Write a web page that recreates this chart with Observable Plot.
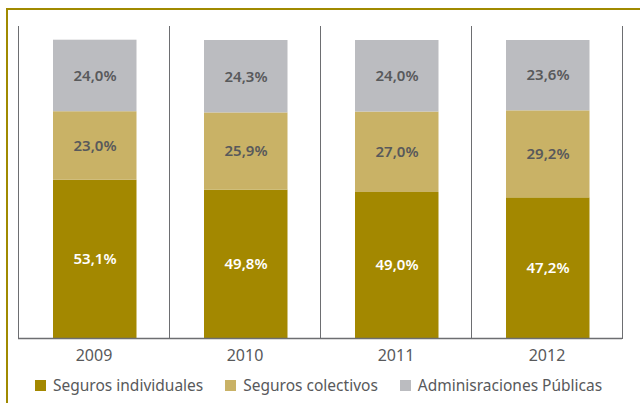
<!DOCTYPE html>
<html><head><meta charset="utf-8">
<script src="https://cdn.jsdelivr.net/npm/d3@7"></script>
<script src="https://cdn.jsdelivr.net/npm/@observablehq/plot@0.6"></script>
<style>
body{margin:0;background:#fff;font-family:"Noto Sans",sans-serif;}
#wrap{position:absolute;left:6px;top:8px;width:632px;height:393px;border-left:2px solid #A08A00;border-top:2px solid #A08A00;}
#chart{position:absolute;left:0;top:0;}
#legend{position:absolute;left:27px;top:364px;display:flex;align-items:center;font-size:15.5px;color:#58595b;white-space:nowrap;}
.item{display:flex;align-items:center;margin-right:22px;}
.sw{width:11px;height:11px;margin-right:7px;}
</style>
</head><body>
<div id="wrap"><div id="chart"></div><div id="legend"></div></div>
<script>
const years = ["2009", "2010", "2011", "2012"];
const seriesNames = ["Seguros individuales", "Seguros colectivos", "Adminisraciones Públicas"];
const individuales = [53.1, 49.8, 49.0, 47.2];
const colectivos = [23.0, 25.9, 27.0, 29.2];
const publicas = [24.0, 24.3, 24.0, 23.6];
const colors = ["#A38800", "#C9B266", "#BBBCC0"];

const seriesValues = [individuales, colectivos, publicas];
const rows = [];
seriesNames.forEach((s, i) => years.forEach((y, j) => rows.push({year: y, series: s, value: seriesValues[i][j]})));
const fmt = v => v.toFixed(1).replace(".", ",") + "%";

const W = 632, H = 360, mT = 16, mB = 32;
const plot = Plot.plot({
  width: W, height: H,
  marginLeft: 10, marginRight: 18, marginTop: mT, marginBottom: mB,
  style: {fontFamily: "Noto Sans, sans-serif", background: "transparent"},
  fx: {domain: years, padding: 0, label: null},
  y: {domain: [0, 100], range: [H - mB, 30], axis: null},
  color: {domain: seriesNames, range: colors},
  marks: [
    Plot.frame({anchor: "left", stroke: "#6d6e71"}),
    Plot.frame({anchor: "right", stroke: "#6d6e71"}),
    Plot.barY(rows, Plot.stackY({fx: "year", y: "value", fill: "series", insetLeft: 35, insetRight: 32.5})),
    Plot.text(rows, Plot.stackY({fx: "year", y: "value", z: "series", text: d => fmt(d.value), dx: 1,
      fill: d => d.series === seriesNames[0] ? "#ffffff" : "#58595b", fontSize: 15, fontWeight: 600})),
    Plot.ruleY([0], {stroke: "#6d6e71", strokeWidth: 1.5}),
    Plot.axisFx({anchor: "bottom", tickSize: 0, tickPadding: 11, fontSize: 16, label: null, color: "#58595b"})
  ]
});
document.getElementById("chart").appendChild(plot);

const legend = document.getElementById("legend");
seriesNames.forEach((s, i) => {
  const it = document.createElement("div"); it.className = "item";
  const sw = document.createElement("div"); sw.className = "sw"; sw.style.background = colors[i];
  const t = document.createElement("span"); t.textContent = s;
  it.appendChild(sw); it.appendChild(t); legend.appendChild(it);
});
</script>
</body></html>
